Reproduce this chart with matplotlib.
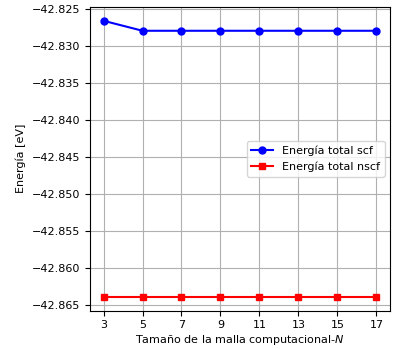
import numpy as np
import matplotlib
matplotlib.use("Agg")
import matplotlib.pyplot as plt

N = [3, 5, 7, 9, 11, 13, 15, 17]
E_scf = [-42.82655, -42.82790, -42.82790, -42.82790, -42.82790, -42.82790, -42.82790, -42.82790]
E_nscf = [-42.86385, -42.86385, -42.86385, -42.86385, -42.86385, -42.86385, -42.86385, -42.86385]

plt.rcParams['font.size'] = 8
fig = plt.figure(figsize=(4.03, 3.49), dpi=100)
ax = fig.add_axes([0.223, 0.11, 0.745, 0.87])
ax.plot(N, E_scf, 'o-', color='blue', markersize=5, label='Energía total scf')
ax.plot(N, E_nscf, 's-', color='red', markersize=5, label='Energía total nscf')
ax.set_xticks(N)
ax.grid(True)
ax.set_xlabel('Tamaño de la malla computacional-$N$', labelpad=2)
ax.set_ylabel('Energía [eV]')
ax.ticklabel_format(axis='y', useOffset=False)
ax.legend(loc='center right', bbox_to_anchor=(1.0, 0.5))
fig.savefig('out.png')
